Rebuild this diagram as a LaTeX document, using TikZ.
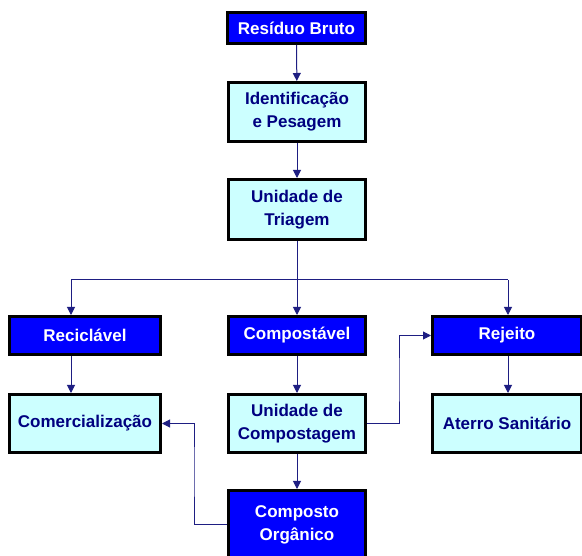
\documentclass[tikz,border=0pt]{standalone}
\usepackage{fontspec}
\setmainfont{Liberation Sans}
\usetikzlibrary{arrows.meta}
\definecolor{azul}{RGB}{0,0,255}
\definecolor{ciano}{RGB}{204,255,255}
\definecolor{marinho}{RGB}{0,0,128}
\definecolor{linha}{RGB}{30,30,130}
\begin{document}
\begin{tikzpicture}[x=1pt,y=-1pt]
			\useasboundingbox (0,0) rectangle (582,556);
			\tikzstyle{escuro}=[fill=azul,text=white]
			\tikzstyle{claro}=[fill=ciano,text=marinho]
			\tikzstyle{seta}=[draw=linha,line width=1pt,-{Triangle[length=8pt,width=8pt]}]
			\begin{scope}[shape=rectangle,align=center,font=\fontsize{17}{23}\selectfont\bfseries]
				\tikzstyle{every node}=[draw=black,line width=3pt,inner sep=0pt]
				\node[escuro,minimum width=138,minimum height=31] (bruto) at (296.5,28) {Resíduo Bruto};
				\node[claro,minimum width=137,minimum height=59] (ident) at (297,112) {Identificação\\e Pesagem};
				\node[claro,minimum width=137,minimum height=60] (triagem) at (297,209.5) {Unidade de\\Triagem};
				\node[escuro,minimum width=151,minimum height=38] (recicl) at (85,335.5) {Reciclável};
				\node[escuro,minimum width=137,minimum height=38] (compost) at (297,335.5) {Compostável};
				\node[escuro,minimum width=149,minimum height=38] (rejeito) at (507,335.5) {Rejeito};
				\node[claro,minimum width=151,minimum height=58] (comerc) at (85,423.5) {Comercialização};
				\node[claro,minimum width=137,minimum height=58] (unidcomp) at (297,423.5) {Unidade de\\Compostagem};
				\node[claro,minimum width=149,minimum height=58] (aterro) at (507,423.5) {Aterro Sanitário};
				\node[escuro,minimum width=137,minimum height=68] (organico) at (297,524.5) {Composto\\Orgânico};
			\end{scope}
			\coordinate (r1) at (71,280);
			\coordinate (r2) at (297,280);
			\coordinate (r3) at (508,280);
			\coordinate (c1) at (399,380);
			\coordinate (c2) at (194,470);
			\draw [seta] (bruto) -- (ident);
			\draw [seta] (ident) -- (triagem);
			\draw [draw=linha,line width=1pt] (triagem) -- (r2);
			\draw [draw=linha,line width=1pt] (r1) -- (r3);
			\draw [seta] (r1) -- (recicl.north -| r1);
			\draw [seta] (r2) -- (compost);
			\draw [seta] (r3) -- (rejeito.north -| r3);
			\draw [seta] (recicl.south -| r1) -- (comerc.north -| r1);
			\draw [seta] (compost) -- (unidcomp);
			\draw [seta] (rejeito.south -| r3) -- (aterro.north -| r3);
			\draw [seta] (unidcomp) -- (organico);
			\draw [seta] (unidcomp.east) -| (c1) |- (rejeito.west);
			\draw [seta] (organico.west) -| (c2) |- (comerc.east);
		\end{tikzpicture}
\end{document}
